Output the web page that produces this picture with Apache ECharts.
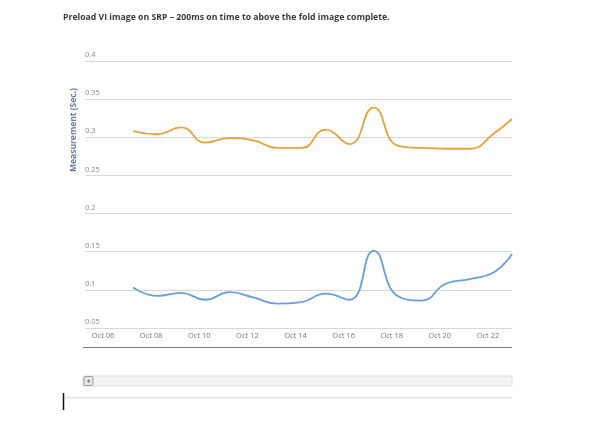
<!DOCTYPE html>
<html><head><meta charset="utf-8">
<script src="https://cdn.jsdelivr.net/npm/echarts@6/dist/echarts.min.js"></script>
<style>html,body{margin:0;padding:0;background:#fff;}#c{width:600px;height:439px;}</style>
</head><body><div id="c"></div>
<script>
const titleText = 'Preload VI image on SRP \u2013 200ms on time to above the fold image complete.';
const yAxisTitle = 'Measurement (Sec.)';
const dates = ['2013-10-07T06:00','2013-10-08T06:00','2013-10-09T06:00','2013-10-10T06:00','2013-10-11T06:00','2013-10-12T06:00','2013-10-13T06:00','2013-10-14T06:00','2013-10-15T06:00','2013-10-16T06:00','2013-10-17T06:00','2013-10-18T06:00','2013-10-19T06:00','2013-10-20T06:00','2013-10-21T06:00','2013-10-22T06:00','2013-10-23T00:00'];
const orangeValues = [0.308,0.304,0.313,0.293,0.299,0.296,0.286,0.286,0.310,0.291,0.339,0.289,0.286,0.285,0.285,0.305,0.324];
const blueValues = [0.103,0.092,0.096,0.087,0.097,0.090,0.082,0.084,0.095,0.087,0.151,0.092,0.086,0.108,0.114,0.123,0.147];
const xTickDates = ['2013-10-06T00:00','2013-10-08T00:00','2013-10-10T00:00','2013-10-12T00:00','2013-10-14T00:00','2013-10-16T00:00','2013-10-18T00:00','2013-10-20T00:00','2013-10-22T00:00'];
const axisStart = '2013-10-05T06:00';
const axisEnd = '2013-10-23T00:00';

const DAY = 86400000;
const base = new Date('2013-10-06T00:00').getTime();
const dayOf = s => (new Date(s).getTime() - base) / DAY;
const pad = n => (n < 10 ? '0' : '') + n;
const chart = echarts.init(document.getElementById('c'));
chart.setOption({
  animation: false,
  backgroundColor: '#fff',
  title: { text: titleText, left: 58, top: 8,
    textStyle: { fontSize: 8.7, fontWeight: 'bold', color: '#3a3a3a', fontFamily: 'Open Sans' } },
  grid: { left: 85, right: 88, top: 61, bottom: 111, containLabel: false },
  xAxis: {
    type: 'value', min: dayOf(axisStart), max: dayOf(axisEnd),
    axisLine: { show: false }, axisTick: { show: false }, splitLine: { show: false },
    axisLabel: { customValues: xTickDates.map(dayOf), showMinLabel: true, showMaxLabel: true,
      margin: 4, fontSize: 7.5, color: '#777', fontFamily: 'Open Sans',
      formatter: v => 'Oct ' + pad(new Date(base + v * DAY).getDate()) }
  },
  yAxis: {
    type: 'value', min: 0.05, max: 0.4, interval: 0.05,
    axisLine: { show: false }, axisTick: { show: false },
    splitLine: { lineStyle: { color: '#d8d8d8', width: 1 } },
    axisLabel: { inside: true, margin: 0, align: 'left', verticalAlign: 'bottom', padding: [0,0,2,0],
      fontSize: 7.5, color: '#888', fontFamily: 'Open Sans',
      formatter: v => String(+v.toFixed(2)) }
  },
  series: [
    { type: 'line', data: dates.map((d,i)=>[dayOf(d), orangeValues[i]]), smooth: 0.5, showSymbol: false,
      lineStyle: { color: '#E3A23F', width: 1.8 }, itemStyle: { color: '#E3A23F' } },
    { type: 'line', data: dates.map((d,i)=>[dayOf(d), blueValues[i]]), smooth: 0.5, showSymbol: false,
      lineStyle: { color: '#6A9ED6', width: 1.8 }, itemStyle: { color: '#6A9ED6' } }
  ],
  graphic: [
    { type: 'text', x: 74, y: 130, rotation: Math.PI/2, style: { text: yAxisTitle, fill: '#6f7c96', fontSize: 8.5, fontWeight: 'bold', fontFamily: 'Open Sans', align: 'center', verticalAlign: 'middle' } },
    { type: 'line', shape: { x1: 83, y1: 347.5, x2: 512, y2: 347.5 }, style: { stroke: '#777', lineWidth: 1.2 } },
    { type: 'rect', shape: { x: 83, y: 376, width: 429, height: 10 }, style: { fill: '#f3f3f3', stroke: '#e0e0e0', lineWidth: 1 } },
    { type: 'rect', shape: { x: 84, y: 376.5, width: 9, height: 9, r: 1.5 }, style: { fill: '#e6e6e6', stroke: '#9a9a9a', lineWidth: 1 } },
    { type: 'polygon', shape: { points: [[87,381],[89.5,379],[89.5,383]] }, style: { fill: '#666' } },
    { type: 'line', shape: { x1: 63, y1: 397.5, x2: 512, y2: 397.5 }, style: { stroke: '#e2e2e2', lineWidth: 1.5 } },
    { type: 'line', shape: { x1: 63.5, y1: 393, x2: 63.5, y2: 410 }, style: { stroke: '#111', lineWidth: 1.5 } }
  ]
});
</script></body></html>
